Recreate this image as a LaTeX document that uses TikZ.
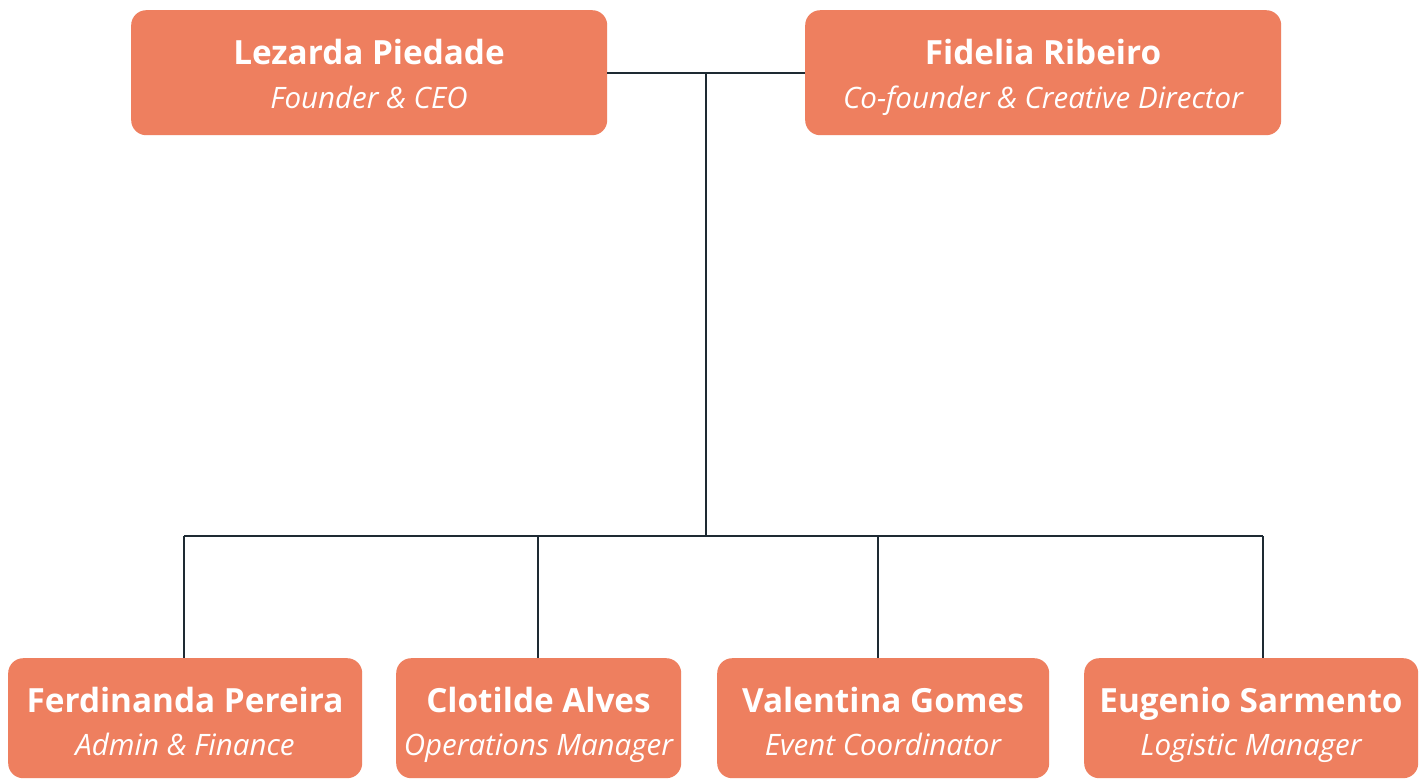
\documentclass[tikz,border=0pt]{standalone}
\usepackage{fontspec}
\setmainfont{Open Sans}
\definecolor{boxc}{HTML}{EE7F5F}
\definecolor{linec}{HTML}{1E2A33}
\begin{document}
\begin{tikzpicture}[x=1pt,y=-1pt,
  box/.style={fill=boxc, draw=none, rounded corners=15pt, inner sep=0pt, anchor=north west},
  pname/.style={text=white, font=\fontsize{33.3}{38}\selectfont\bfseries, anchor=base, inner sep=0pt},
  prole/.style={text=white, font=\fontsize{29.5}{34}\selectfont\itshape, anchor=base, inner sep=0pt},
  conn/.style={draw=linec, line width=2pt}]
\fill[white] (0,0) rectangle (1426,780);
\useasboundingbox (0,0) rectangle (1426,780);
% top boxes
\node[box, minimum width=476pt, minimum height=125pt] (lez) at (131,10) {};
\node[box, minimum width=476pt, minimum height=125pt] (fid) at (805,10) {};
\node[pname] (lezN) at (369,64) {Lezarda Piedade};
\node[prole] (lezR) at (369,108.5) {Founder \& CEO};
\node[pname] (fidN) at (1043,64) {Fidelia Ribeiro};
\node[prole] (fidR) at (1043,108.5) {Co-founder \& Creative Director};
% bottom boxes
\node[box, minimum width=354pt, minimum height=120pt] (fer) at (8,658) {};
\node[box, minimum width=285pt, minimum height=120pt] (clo) at (396,658) {};
\node[box, minimum width=332pt, minimum height=120pt] (val) at (717,658) {};
\node[box, minimum width=334pt, minimum height=120pt] (eug) at (1084,658) {};
\node[pname] (ferN) at (185,712.5) {Ferdinanda Pereira};
\node[prole] (ferR) at (185,755) {Admin \& Finance};
\node[pname] (cloN) at (538.5,712.5) {Clotilde Alves};
\node[prole] (cloR) at (538.5,755) {Operations Manager};
\node[pname] (valN) at (883,712.5) {Valentina Gomes};
\node[prole] (valR) at (883,755) {Event Coordinator};
\node[pname] (eugN) at (1251,712.5) {Eugenio Sarmento};
\node[prole] (eugR) at (1251,755) {Logistic Manager};
% connectors
\coordinate (hub) at (706,73);
\coordinate (bus) at (706,536);
\coordinate (b1) at (184,536);
\coordinate (b2) at (538,536);
\coordinate (b3) at (878,536);
\coordinate (b4) at (1263,536);
\draw[conn] (lez.east |- hub) -- (fid.west |- hub);
\draw[conn] (hub) -- (bus);
\draw[conn] (b1) -- (b4);
\draw[conn] (b1) -- (b1 |- fer.north);
\draw[conn] (b2) -- (b2 |- clo.north);
\draw[conn] (b3) -- (b3 |- val.north);
\draw[conn] (b4) -- (b4 |- eug.north);
\end{tikzpicture}
\end{document}
